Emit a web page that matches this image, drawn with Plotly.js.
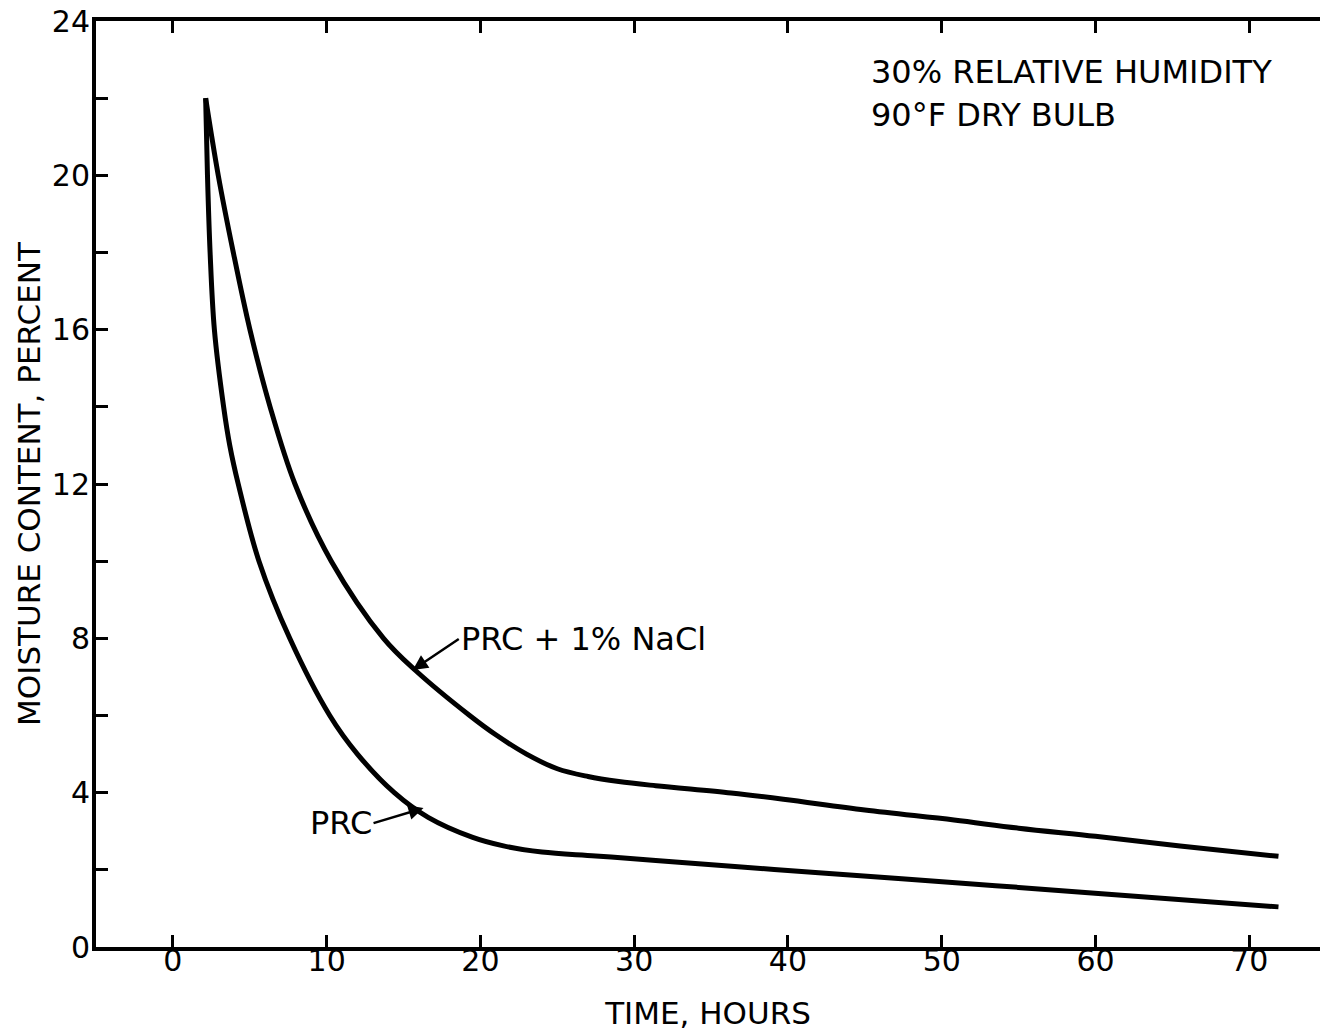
<!DOCTYPE html>
<html>
<head>
<meta charset="utf-8">
<script src="https://cdn.plot.ly/plotly-3.0.1.min.js"></script>
<style>
html,body{margin:0;padding:0;overflow:hidden;background:#fff;}
#chart{width:1320px;height:1034px;}
</style>
</head>
<body>
<div id="chart"></div>
<script>
// PRC + 1% NaCl (upper curve)
const naclHours = [2.13, 2.95, 3.93, 5.01, 6.32, 7.94, 10.3, 13.7, 15.8, 19.3, 21.0, 23.0, 25.0, 27.0, 29.0, 31.4, 36.3, 39.7, 45.0, 50.8, 55.0, 60.0, 65.5, 71.9];
const naclMoisture = [22.0, 20.0, 18.0, 16.0, 14.0, 12.0, 10.0, 8.0, 7.16, 6.0, 5.5, 5.0, 4.62, 4.42, 4.29, 4.18, 3.99, 3.83, 3.55, 3.29, 3.08, 2.87, 2.62, 2.35];
// PRC (lower curve)
const prcHours = [2.13, 2.25, 2.42, 2.7, 3.3, 3.7, 4.25, 5.6, 7.6, 10.2, 12.0, 14.4, 16.6, 19.5, 21.5, 24.0, 27.5, 31.4, 39.1, 47.4, 53.5, 60.4, 71.9];
const prcMoisture = [22.0, 20.0, 18.0, 16.0, 14.0, 13.0, 12.0, 10.0, 8.0, 6.0, 5.0, 4.0, 3.36, 2.84, 2.62, 2.46, 2.36, 2.24, 2.01, 1.77, 1.59, 1.38, 1.04];

const xTickVals = [0, 10, 20, 30, 40, 50, 60, 70];
const xTickText = ['0', '10', '20', '30', '40', '50', '60', '70'];
const yTickVals = [0, 2, 4, 6, 8, 10, 12, 14, 16, 18, 20, 22, 24];
const yTickText = ['0', '', '4', '', '8', '', '12', '', '16', '', '20', '', '24'];
const yTickBlank = ['', '', '', '', '', '', '', '', '', '', '', '', ''];

const FONT = 'DejaVu Sans, sans-serif';

const traces = [
  {x: naclHours, y: naclMoisture, mode: 'lines', name: 'PRC + 1% NaCl',
   line: {color: '#000', width: 5, shape: 'spline', smoothing: 1}},
  {x: prcHours, y: prcMoisture, mode: 'lines', name: 'PRC',
   line: {color: '#000', width: 5, shape: 'spline', smoothing: 1}}
];

const layout = {
  width: 1320, height: 1034,
  margin: {l: 96, r: 0, t: 21, b: 87},
  paper_bgcolor: '#fff', plot_bgcolor: '#fff',
  showlegend: false,
  font: {family: FONT, color: '#000', size: 30},
  xaxis: {
    range: [-5, 74.6], showgrid: false, zeroline: false,
    showline: true, linecolor: '#000', linewidth: 4, mirror: 'ticks',
    ticks: 'inside', ticklen: 12, tickwidth: 3, tickcolor: '#000',
    tickvals: xTickVals, ticktext: xTickText, ticklabelstandoff: -16,
    tickfont: {family: FONT, size: 30, color: '#000'},
    title: {text: 'TIME, HOURS', font: {family: FONT, size: 31, color: '#000'}, standoff: 26}
  },
  yaxis: {
    range: [0, 24], showgrid: false, zeroline: false,
    showline: true, linecolor: '#000', linewidth: 4, mirror: false,
    ticks: 'inside', ticklen: 12, tickwidth: 3, tickcolor: '#000',
    tickvals: yTickVals, ticktext: yTickText, ticklabelstandoff: -4,
    tickfont: {family: FONT, size: 30, color: '#000'},
    title: {text: 'MOISTURE CONTENT, PERCENT', font: {family: FONT, size: 31, color: '#000'}, standoff: 3}
  },
  yaxis2: {
    overlaying: 'y', side: 'right', range: [0, 24],
    showgrid: false, zeroline: false, showline: false,
    ticks: 'inside', ticklen: 12, tickwidth: 3, tickcolor: '#000',
    tickvals: yTickVals, ticktext: yTickBlank
  },
  annotations: [
    {x: 45.3, y: 22.68, xref: 'x', yref: 'y', text: '30% RELATIVE HUMIDITY', showarrow: false,
     xanchor: 'left', yanchor: 'middle', font: {family: FONT, size: 32, color: '#000'}},
    {x: 45.3, y: 21.57, xref: 'x', yref: 'y', text: '90°F DRY BULB', showarrow: false,
     xanchor: 'left', yanchor: 'middle', font: {family: FONT, size: 32, color: '#000'}},
    {x: 15.6, y: 7.18, xref: 'x', yref: 'y', text: 'PRC + 1% NaCl', showarrow: true,
     ax: 46, ay: -31, xanchor: 'left', yanchor: 'middle',
     arrowhead: 2, arrowsize: 1.2, arrowwidth: 2.5, arrowcolor: '#000',
     font: {family: FONT, size: 32, color: '#000'}},
    {x: 16.3, y: 3.6, xref: 'x', yref: 'y', text: 'PRC', showarrow: true,
     ax: -50, ay: 15, xanchor: 'right', yanchor: 'middle',
     arrowhead: 2, arrowsize: 1.2, arrowwidth: 2.5, arrowcolor: '#000',
     font: {family: FONT, size: 32, color: '#000'}}
  ]
};

Plotly.newPlot('chart', traces, layout, {displayModeBar: false, staticPlot: true});
</script>
</body>
</html>
